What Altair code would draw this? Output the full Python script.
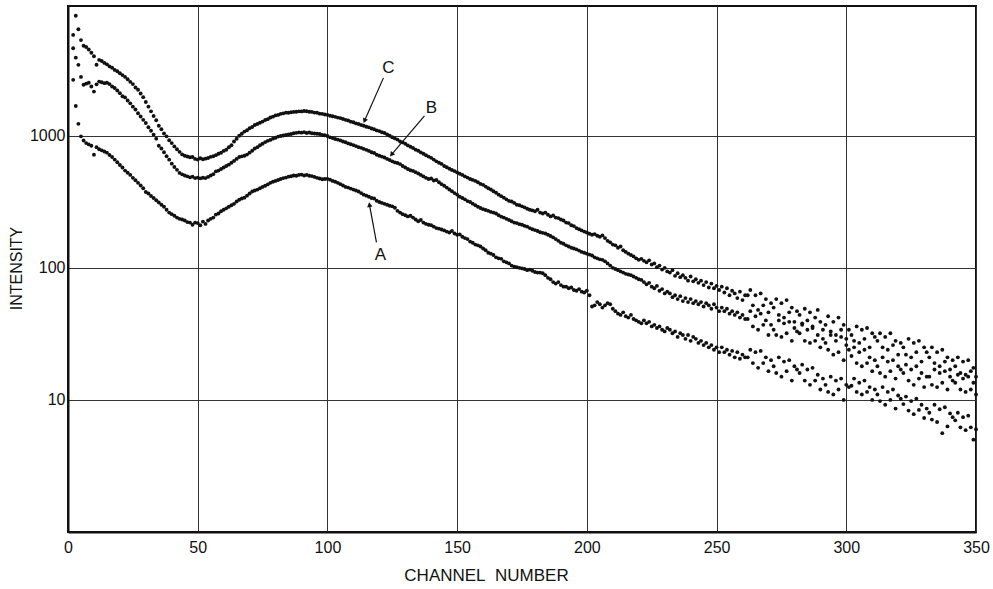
import altair as alt
import pandas as pd

# Intensity readings per channel, channels 2..350
series_c = [
    5800, 8100, 6400, 5300, 4800, 4700, 4500, 4250, 4000, 3450,
    3750, 3680, 3560, 3470, 3350, 3270, 3150, 3080, 2970, 2880,
    2790, 2680, 2560, 2460, 2320, 2230, 2090, 1960, 1800, 1660,
    1530, 1410, 1310, 1190, 1120, 1040, 990, 925, 880, 830,
    790, 755, 722, 705, 697, 688, 690, 668, 660, 676,
    664, 671, 679, 692, 700, 713, 731, 744, 768, 783,
    818, 848, 905, 948, 1000, 1035, 1075, 1100, 1140, 1165,
    1205, 1228, 1255, 1280, 1315, 1335, 1375, 1395, 1425, 1438,
    1465, 1478, 1495, 1492, 1505, 1515, 1518, 1530, 1528, 1540,
    1532, 1520, 1515, 1498, 1492, 1470, 1465, 1448, 1440, 1418,
    1405, 1390, 1372, 1360, 1338, 1320, 1305, 1278, 1265, 1240,
    1228, 1205, 1190, 1170, 1158, 1135, 1120, 1098, 1085, 1062,
    1050, 1025, 1000, 975, 955, 935, 905, 890, 870, 845,
    825, 808, 785, 770, 748, 730, 712, 695, 680, 660,
    640, 625, 612, 590, 578, 562, 550, 540, 528, 515,
    505, 492, 482, 470, 463, 455, 445, 432, 425, 412,
    400, 392, 380, 370, 358, 349, 340, 330, 321, 318,
    310, 300, 298, 292, 287, 280, 275, 272, 268, 275,
    262, 258, 262, 252, 245, 249, 240, 238, 232, 228,
    220, 218, 210, 207, 200, 196, 192, 188, 185, 181,
    178, 180, 175, 172, 176, 168, 160, 156, 150, 148,
    142, 145, 136, 132, 128, 125, 122, 118, 115, 117,
    113, 110, 114, 106, 108, 101, 104, 97, 100, 94,
    92, 96, 87, 91, 85, 88, 84, 80, 86, 79,
    82, 77, 80, 74, 78, 71, 76, 70, 73, 68,
    72, 65, 70, 62, 67, 64, 59, 66, 57, 62,
    62, 68, 52, 62, 48, 64, 52, 58, 46, 54,
    50, 58, 44, 54, 42, 57, 46, 50, 39, 47,
    44, 38, 49, 40, 46, 36, 42, 48, 39, 34,
    37, 43, 33, 39, 31, 42, 34, 37, 29, 34,
    31, 28, 36, 27, 34, 29, 35, 25, 32, 30,
    28, 32, 25, 30, 24, 32, 26, 28, 22, 27,
    25, 22, 29, 21, 27, 23, 28, 19.5, 25, 23,
    21, 25, 19, 23, 18, 24, 19.5, 21, 17, 20,
    18, 21, 16, 19.5, 15.5, 20, 16.5, 17.5, 15,
]

series_b = [
    4600, 3900, 3440, 2790, 2430, 2480, 2520, 2360, 2160, 2450,
    2570, 2540, 2500, 2520, 2460, 2360, 2300, 2200, 2100, 1990,
    1950, 1850, 1760, 1660, 1580, 1480, 1400, 1320, 1250, 1160,
    1090, 1020, 950, 840, 800, 750, 700, 659, 615, 580,
    552, 523, 510, 500, 493, 484, 490, 478, 482, 476,
    481, 478, 488, 500, 512, 537, 545, 560, 575, 590,
    604, 625, 645, 668, 690, 698, 705, 720, 745, 770,
    800, 820, 848, 870, 895, 915, 930, 950, 965, 985,
    995, 1005, 1012, 1025, 1030, 1045, 1052, 1060, 1055, 1065,
    1050, 1058, 1045, 1040, 1035, 1030, 1015, 1008, 995, 972,
    960, 945, 935, 922, 905, 892, 875, 862, 850, 835,
    820, 810, 795, 782, 768, 750, 740, 718, 705, 695,
    685, 668, 655, 640, 628, 622, 610, 590, 575, 560,
    548, 542, 530, 518, 505, 492, 480, 470, 475, 458,
    462, 445, 430, 418, 405, 392, 380, 368, 358, 345,
    338, 330, 320, 315, 306, 298, 290, 284, 278, 274,
    270, 265, 262, 258, 250, 244, 240, 235, 230, 225,
    220, 218, 214, 212, 208, 205, 200, 196, 193, 190,
    186, 184, 182, 178, 174, 170, 165, 160, 155, 152,
    148, 145, 142, 140, 138, 135, 132, 130, 128, 126,
    124, 120, 118, 116, 115, 112, 108, 104, 100, 98,
    96, 94, 92, 90, 89, 88, 86, 84, 82, 81,
    78, 75, 77, 72, 70, 73, 67, 69, 64, 66,
    64, 60, 62, 58, 61, 56, 59, 55, 58, 54,
    56, 53, 55, 51, 54, 52, 49, 53, 50, 47,
    50, 47, 49, 45, 47, 44, 46, 42, 44, 41,
    41, 47, 36, 43, 34, 45, 37, 40, 31, 37,
    34, 31, 40, 30, 38, 32, 39, 28, 35, 33,
    32, 37, 28, 34, 27, 35, 28, 31, 25, 29,
    27, 24, 31, 22, 28, 23, 30, 20, 26, 24,
    21.5, 25, 19, 23, 18, 24, 19, 21, 16.5, 20,
    18, 16, 21, 15, 19.5, 16.5, 20, 14.5, 18, 17,
    16, 18.5, 14, 17, 13, 18, 14.5, 16, 12.5, 15,
    15, 13, 17, 12.5, 16, 13.5, 16.5, 12, 15, 14,
    13.5, 15.5, 12, 14.5, 11.5, 15, 12, 13.5, 11,
]

series_a = [
    2650, 1680, 1230, 990, 920, 880, 860, 840, 718, 820,
    790, 775, 760, 745, 715, 690, 660, 630, 600, 575,
    545, 525, 505, 480, 460, 440, 420, 400, 375, 365,
    350, 338, 325, 312, 300, 290, 275, 262, 255, 248,
    240, 235, 232, 228, 222, 220, 212, 220, 218, 210,
    224, 215, 228, 235, 240, 253, 258, 268, 275, 282,
    290, 298, 305, 318, 328, 335, 340, 352, 365, 378,
    385, 391, 400, 410, 418, 428, 440, 448, 455, 462,
    470, 478, 482, 490, 494, 500, 498, 505, 508, 500,
    505, 498, 495, 488, 480, 475, 468, 470, 472, 465,
    455, 448, 440, 430, 420, 410, 405, 398, 391, 385,
    378, 368, 358, 352, 345, 338, 335, 322, 315, 310,
    305, 300, 295, 292, 285, 270, 262, 255, 250, 245,
    248, 240, 232, 225, 230, 220, 215, 212, 210, 205,
    200, 198, 195, 192, 188, 185, 190, 182, 178, 179,
    172, 168, 165, 158, 155, 150, 148, 145, 140, 136,
    130, 128, 125, 120, 118, 117, 112, 110, 108, 104,
    102, 101, 100, 99, 98, 96, 97, 95, 93, 92,
    92, 91, 88, 84, 82, 78, 76, 78, 74, 72,
    72, 70, 71, 68, 67, 69, 66, 65, 67, 62,
    51, 52, 55, 53, 50, 52, 54, 53, 49, 47,
    45, 44, 46, 43, 42, 44, 41, 40, 39, 38,
    40, 38, 39, 36, 37, 35, 36, 34, 33, 35,
    34, 32, 33, 30, 32, 31, 29, 31, 28, 30,
    29, 27, 28, 26, 27, 25, 26, 24, 25, 23,
    25, 23, 24, 22, 23.5, 21, 23, 20.5, 22, 21,
    21, 24, 19, 23, 17.5, 23.5, 19, 21, 16.5, 20,
    18, 16, 21, 15, 19.5, 16.5, 20, 14, 18, 17,
    16, 18.5, 14, 17, 13, 17.5, 14, 15.5, 12, 14.5,
    13, 11.5, 15, 11, 14, 12, 14.5, 10, 13, 12.5,
    12.8, 14.5, 11.5, 13.5, 11, 14, 11.5, 12.5, 10, 12,
    11, 9.8, 12.5, 9.2, 11.5, 10, 12, 8.6, 10.8, 10.2,
    9.3, 10.6, 8.3, 9.8, 7.8, 10.2, 8.4, 9.2, 7.3, 8.6,
    8, 7.1, 9.2, 6.8, 8.5, 5.6, 8.8, 6.3, 7.9, 7.4,
    7, 8, 6.2, 7.4, 5.9, 7.6, 6.2, 5, 6,
]

first_channel = 2
x_ticks = [0, 50, 100, 150, 200, 250, 300, 350]
y_ticks = [10, 100, 1000]

# annotation labels (channel, intensity)
label_text = ["C", "B", "A"]
label_channel = [123.5, 140.1, 120.4]
label_value = [3266, 1627, 124]
arrow_from_channel = [121.6, 137.4, 118.9]
arrow_from_value = [2742, 1416, 156]
arrow_to_channel = [114.3, 124.7, 116.2]
arrow_to_value = [1298, 719, 301]
arrow_angle = [204, 220, 350]

assert len(series_a) == 349 and len(series_b) == 349 and len(series_c) == 349

rows = []
for name, vals in (("A", series_a), ("B", series_b), ("C", series_c)):
    for i, v in enumerate(vals):
        rows.append({"channel": first_channel + i, "intensity": v, "series": name})
df = pd.DataFrame(rows)

labels = pd.DataFrame({"channel": label_channel, "intensity": label_value, "text": label_text})
arrows = pd.DataFrame({
    "c0": arrow_from_channel, "v0": arrow_from_value,
    "c1": arrow_to_channel, "v1": arrow_to_value, "angle": arrow_angle,
})

FONT = "Liberation Sans"

xscale = alt.Scale(domain=[0, 350], nice=False, zero=False)
yscale = alt.Scale(type="log", domain=[1, 9600], nice=False)

xaxis = alt.Axis(
    values=x_ticks, title="CHANNEL\u00a0\u00a0NUMBER", grid=True, ticks=False,
    labelFontSize=16, labelPadding=7, labelFont=FONT, labelColor="#111",
    titleFont=FONT, titleFontSize=17, titleFontWeight="normal", titleColor="#111",
    titleX=418, titleY=43, titleAlign="center", titleBaseline="middle",
    domainColor="#111", domainWidth=2, gridColor="#333", gridWidth=1,
    labelFlush=False,
)
yaxis = alt.Axis(
    values=y_ticks, title="INTENSITY", grid=True, ticks=False, format="d",
    labelFontSize=16, labelPadding=3, labelFont=FONT, labelColor="#111",
    titleFont=FONT, titleFontSize=16, titleFontWeight="normal", titleColor="#111",
    titleX=-52, titleY=262, titleAlign="center", titleBaseline="middle", titleAngle=270,
    domainColor="#111", domainWidth=2, gridColor="#333", gridWidth=1,
)

points = alt.Chart(df).mark_circle(size=15, color="#111", opacity=1).encode(
    x=alt.X("channel:Q", scale=xscale, axis=xaxis),
    y=alt.Y("intensity:Q", scale=yscale, axis=yaxis),
)

rules = alt.Chart(arrows).mark_rule(color="#111", strokeWidth=1.2).encode(
    x=alt.X("c0:Q", scale=xscale), y=alt.Y("v0:Q", scale=yscale),
    x2="c1:Q", y2="v1:Q",
)

heads = alt.Chart(arrows).mark_point(shape="triangle-up", filled=True, size=30, color="#111", opacity=1).encode(
    x=alt.X("c1:Q", scale=xscale), y=alt.Y("v1:Q", scale=yscale),
    angle=alt.Angle("angle:Q", scale=None),
)

texts = alt.Chart(labels).mark_text(font=FONT, fontSize=17, color="#111", align="center", baseline="middle").encode(
    x=alt.X("channel:Q", scale=xscale), y=alt.Y("intensity:Q", scale=yscale), text="text:N",
)

chart = (points + rules + heads + texts).properties(
    width=908, height=526,
    padding={"left": 68, "top": 6, "right": 17, "bottom": 57},
    autosize=alt.AutoSizeParams(type="none"),
    background="white",
).configure_view(stroke="#111", strokeWidth=2)

chart.save("out.html", embed_options={"renderer": "svg", "actions": False})
